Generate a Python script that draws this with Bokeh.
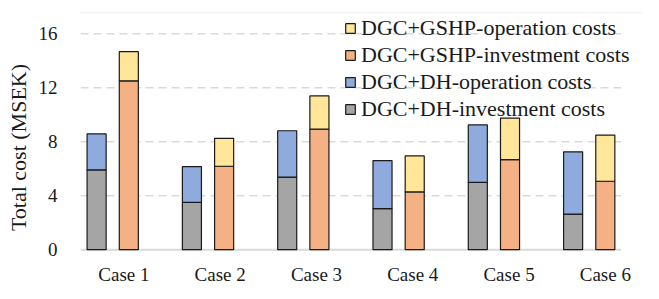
from bokeh.plotting import figure
from bokeh.models import ColumnDataSource, FixedTicker, Legend, LegendItem, Range1d, BoxAnnotation
from bokeh.core.properties import value
from bokeh.embed import file_html
from bokeh.resources import INLINE

cases = ["Case 1", "Case 2", "Case 3", "Case 4", "Case 5", "Case 6"]
dh_invest = [5.92, 3.51, 5.38, 3.04, 4.98, 2.64]
dh_oper = [2.66, 2.64, 3.43, 3.56, 4.26, 4.61]
gshp_invest = [12.51, 6.18, 8.93, 4.28, 6.67, 5.07]
gshp_oper = [2.16, 2.07, 2.46, 2.67, 3.08, 3.42]
y_ticks = [0, 4, 8, 12, 16]

labels = ["DGC+GSHP-operation costs", "DGC+GSHP-investment costs",
          "DGC+DH-operation costs", "DGC+DH-investment costs"]
colors = {"dh_inv": "#A5A5A5", "dh_op": "#8FAADC", "gs_inv": "#F4B183", "gs_op": "#FFE699"}

FONT = "Liberation Serif"
TXT = "#1a1a1a"
GRID = "#d9d9d9"

# layout constants (pixels)
W, H = 643, 283
LEFT = 80
TOP = 11
PX_X = 95.3           # pixels per category
PX_Y = 13.5           # pixels per unit
X0 = -0.338           # data x at frame left
Y_ZERO = 249.2        # canvas y of value 0
x_end = X0 + (W - LEFT) / PX_X
y_top = (Y_ZERO - TOP) / PX_Y
y_bot = -(H - Y_ZERO) / PX_Y
plot_x1 = X0 + 540.5 / PX_X   # right end of plot area (gridlines)
label_y = -(273.5 - Y_ZERO) / PX_Y

idx = list(range(len(cases)))
src = ColumnDataSource(dict(
    x_dh=[i - 0.169 for i in idx],
    x_gs=[i + 0.169 for i in idx],
    dh_inv=dh_invest, dh_op=dh_oper, gs_inv=gshp_invest, gs_op=gshp_oper,
))

p = figure(width=W, height=H, output_backend="svg", toolbar_location=None,
           x_range=Range1d(X0, x_end), y_range=Range1d(y_bot, y_top),
           min_border_left=LEFT, min_border_right=0, min_border_top=TOP, min_border_bottom=0,
           x_axis_location=None)
p.outline_line_color = None
p.background_fill_color = "white"
p.xgrid.grid_line_color = None
p.ygrid.grid_line_color = None

# chart-area border (left and top edges visible)
p.add_layout(BoxAnnotation(left=7, right=W + 20, top=12, bottom=H + 20,
                           left_units="canvas", right_units="canvas",
                           top_units="canvas", bottom_units="canvas",
                           fill_alpha=0, line_color=GRID, line_width=1.3, level="underlay"))

# gridlines and baseline
grid_y = y_ticks[1:]
p.segment(x0=[X0] * len(grid_y), x1=[plot_x1] * len(grid_y), y0=grid_y, y1=grid_y,
          line_color=GRID, line_width=1.5, line_dash="8 5")
p.segment(x0=[X0], x1=[plot_x1], y0=[0], y1=[0], line_color=GRID, line_width=2)

w = 0.2
r_dh = p.vbar_stack(["dh_inv", "dh_op"], x="x_dh", width=w, source=src,
                    fill_color=[colors["dh_inv"], colors["dh_op"]],
                    line_color=TXT, line_width=1.2)
r_gs = p.vbar_stack(["gs_inv", "gs_op"], x="x_gs", width=w, source=src,
                    fill_color=[colors["gs_inv"], colors["gs_op"]],
                    line_color=TXT, line_width=1.2)

# category labels
label_pos = [0.1175 + i * 1.0103 for i in idx]
p.text(x=label_pos, y=[label_y] * len(cases), text=cases,
       text_font=value(FONT), text_font_size="19px", text_color=TXT,
       text_align="center", text_baseline="alphabetic")

# y axis
p.yaxis.ticker = FixedTicker(ticks=y_ticks)
p.yaxis.axis_line_color = None
p.yaxis.major_tick_line_color = None
p.yaxis.minor_tick_line_color = None
p.yaxis.major_label_text_font = FONT
p.yaxis.major_label_text_font_size = "19px"
p.yaxis.major_label_text_color = TXT
p.yaxis.major_label_standoff = 17
p.yaxis.axis_label = "Total cost (MSEK)"
p.yaxis.axis_label_text_font = FONT
p.yaxis.axis_label_text_font_size = "22px"
p.yaxis.axis_label_text_font_style = "normal"
p.yaxis.axis_label_text_color = TXT
p.yaxis.axis_label_standoff = 5

legend = Legend(items=[
    LegendItem(label=labels[0], renderers=[r_gs[1]]),
    LegendItem(label=labels[1], renderers=[r_gs[0]]),
    LegendItem(label=labels[2], renderers=[r_dh[1]]),
    LegendItem(label=labels[3], renderers=[r_dh[0]]),
], location=(264, 161))
legend.label_text_font = FONT
legend.label_text_font_size = "22px"
legend.label_text_color = TXT
legend.glyph_width = 12
legend.glyph_height = 12
legend.label_standoff = 5
legend.label_height = 20
legend.spacing = 1
legend.padding = 0
legend.margin = 0
legend.border_line_color = None
legend.background_fill_alpha = 0
p.add_layout(legend, "center")

open("out.html", "w").write(file_html(p, INLINE))
